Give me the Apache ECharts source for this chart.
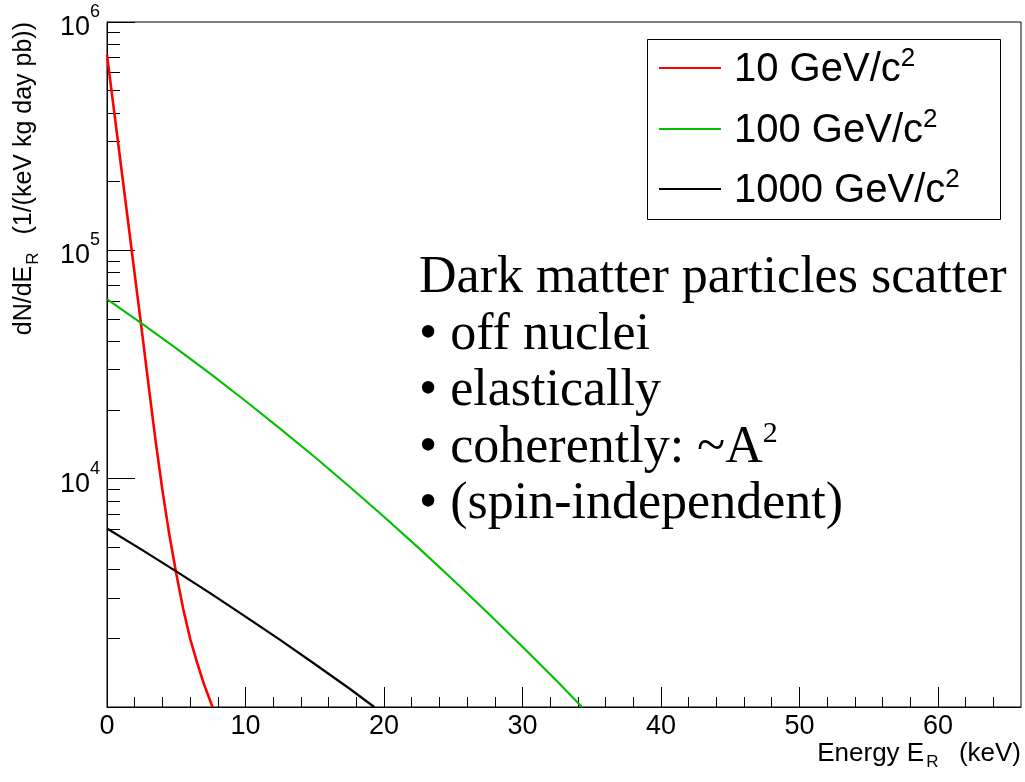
<!DOCTYPE html>
<html><head><meta charset="utf-8">
<script src="https://cdn.jsdelivr.net/npm/echarts@6/dist/echarts.min.js"></script>
<style>html,body{margin:0;padding:0;background:#fff}#c{width:1025px;height:782px}</style>
</head><body><div id="c"></div>
<script>
// ---- data ----
const massNames = ['10 GeV/c', '100 GeV/c', '1000 GeV/c'];
const energy10 = [0, 0.5, 1, 1.5, 2, 2.5, 3, 3.5, 4, 4.5, 5, 5.5, 6, 6.5, 7, 7.62];
const rate10 = [717800, 413000, 237700, 136800, 78700, 45290, 25700, 14790, 8913, 5689, 3846, 2692, 1995, 1567, 1259, 1000];
const energy100 = [0, 2.5, 5, 7.5, 10, 12.5, 15, 17.5, 20, 22.5, 25, 27.5, 30, 32.5, 34.3];
const rate100 = [61090, 47860, 37240, 28710, 21880, 16560, 12440, 9247, 6808, 4977, 3602, 2583, 1837, 1297, 1000];
const energy1000 = [0, 2.5, 5, 7.5, 10, 12.5, 15, 17.5, 19.3];
const rate1000 = [6053, 4887, 3926, 3137, 2489, 1967, 1543, 1205, 1000];
const xMajorTicks = [0, 10, 20, 30, 40, 50, 60];
const xMinorTicks = [2, 4, 6, 8, 12, 14, 16, 18, 22, 24, 26, 28, 32, 34, 36, 38, 42, 44, 46, 48, 52, 54, 56, 58, 62, 64];
const yMajorTicks = [1000, 10000, 100000, 1000000];
const yMinorTicks = [2000, 3000, 4000, 5000, 6000, 7000, 8000, 9000,
  20000, 30000, 40000, 50000, 60000, 70000, 80000, 90000,
  200000, 300000, 400000, 500000, 600000, 700000, 800000, 900000];
const noteLines = ['Dark matter particles scatter', '• off nuclei', '• elastically', '• coherently: ~A', '• (spin-independent)'];

// ---- styling ----
const SANS = '"Liberation Sans", Arial, sans-serif';
const SERIF = '"Liberation Serif", "Times New Roman", serif';
const lineColors = ['#ff0000', '#00c000', '#000000'];
const lineWidths = [2.6, 2.1, 2.2];
const zip = (xs, ys) => xs.map((x, i) => [x, ys[i]]);
const seriesData = [zip(energy10, rate10), zip(energy100, rate100), zip(energy1000, rate1000)];

const chart = echarts.init(document.getElementById('c'), null, {renderer: 'canvas'});

const legendTops = [46, 107, 167];
const option = {
  animation: false,
  backgroundColor: '#fff',
  grid: {left: 107, top: 22, right: 4, bottom: 75, show: true, borderColor: '#000', borderWidth: 1, backgroundColor: 'transparent'},
  xAxis: [
    {type: 'value', min: 0, max: 66, interval: 10, position: 'bottom',
     axisLine: {show: true, onZero: false, lineStyle: {color: '#000', width: 1}},
     axisTick: {show: true, inside: true, length: 20, customValues: xMajorTicks, lineStyle: {color: '#000'}},
     axisLabel: {show: true, customValues: xMajorTicks, margin: 6, fontSize: 27, fontFamily: SANS, color: '#000'},
     splitLine: {show: false}},
    {type: 'value', min: 0, max: 66, position: 'bottom',
     axisLine: {show: false, onZero: false},
     axisTick: {show: true, inside: true, length: 10, customValues: xMinorTicks, lineStyle: {color: '#000'}},
     axisLabel: {show: false}, splitLine: {show: false}}
  ],
  yAxis: [
    {type: 'log', logBase: 10, min: 1000, max: 1000000, position: 'left',
     axisLine: {show: true, lineStyle: {color: '#000', width: 1}},
     axisTick: {show: true, inside: true, length: 28, customValues: yMajorTicks, lineStyle: {color: '#000'}},
     axisLabel: {show: true, customValues: yMajorTicks, margin: 7,
       formatter: v => v <= 1000 ? '' : '{b|10}{s|' + Math.round(Math.log10(v)) + '}',
       rich: {b: {fontSize: 27, fontFamily: SANS, color: '#000', lineHeight: 38, verticalAlign: 'bottom'},
              s: {fontSize: 18, fontFamily: SANS, color: '#000', lineHeight: 18, verticalAlign: 'top'}}},
     splitLine: {show: false}, minorTick: {show: false}},
    {type: 'log', logBase: 10, min: 1000, max: 1000000, position: 'left',
     axisLine: {show: false},
     axisTick: {show: true, inside: true, length: 13, customValues: yMinorTicks, lineStyle: {color: '#000'}},
     axisLabel: {show: false}, splitLine: {show: false}}
  ],
  legend: massNames.map((n, i) => ({
    data: [n], left: 659, top: legendTops[i], orient: 'horizontal', padding: 0,
    icon: 'rect', itemWidth: 62, itemHeight: 2, selectedMode: false,
    formatter: '{b|{name}}{s|2}',
    textStyle: {rich: {
      b: {fontSize: 40, fontFamily: SANS, color: '#000', lineHeight: 44, verticalAlign: 'bottom', padding: [0, 0, 0, 8]},
      s: {fontSize: 26, fontFamily: SANS, color: '#000', lineHeight: 25, verticalAlign: 'top'}
    }}
  })),
  series: massNames.map((n, i) => ({
    name: n, type: 'line', xAxisIndex: 0, yAxisIndex: 0,
    data: seriesData[i], symbol: 'none', showSymbol: false,
    smooth: false, clip: true,
    lineStyle: {color: lineColors[i], width: lineWidths[i]},
    itemStyle: {color: lineColors[i]}
  })),
  graphic: [
    {type: 'rect', shape: {x: 647.5, y: 39.5, width: 353, height: 180}, style: {fill: 'none', stroke: '#000', lineWidth: 1}, z: 10},
    {type: 'text', x: 419, y: 248, z: 10, style: {
      text: noteLines.map((l, i) => i === 3 ? '{t|' + l + '}{sup|2}' : '{t|' + l + '}').join('\n'),
      fill: '#000',
      rich: {
        t: {fontSize: 52, fontFamily: SERIF, fill: '#000', lineHeight: 56.5, verticalAlign: 'bottom'},
        sup: {fontSize: 30, fontFamily: SERIF, fill: '#000', lineHeight: 30, verticalAlign: 'top', padding: [2, 0, 0, 0]}
      }}},
    {type: 'text', x: 1021, y: 741, z: 10, style: {
      text: '{t|Energy E}{sub|R}{t|  (keV)}', align: 'right', verticalAlign: 'top', fill: '#000',
      rich: {
        t: {fontSize: 26, fontFamily: SANS, fill: '#000', lineHeight: 30, verticalAlign: 'top'},
        sub: {fontSize: 17, fontFamily: SANS, fill: '#000', lineHeight: 20, verticalAlign: 'bottom', padding: [24, 6, 0, 2]}
      }}},
    {type: 'text', x: 12, y: 22, rotation: Math.PI / 2, z: 10, style: {
      text: '{t|dN/dE}{sub|R}{t|  (1/(keV kg day pb))}', align: 'right', verticalAlign: 'top', fill: '#000',
      rich: {
        t: {fontSize: 25, fontFamily: SANS, fill: '#000', lineHeight: 30, verticalAlign: 'top'},
        sub: {fontSize: 17, fontFamily: SANS, fill: '#000', lineHeight: 20, verticalAlign: 'bottom', padding: [22, 4, 0, 1]}
      }}}
  ]
};
chart.setOption(option);
</script>
</body></html>
